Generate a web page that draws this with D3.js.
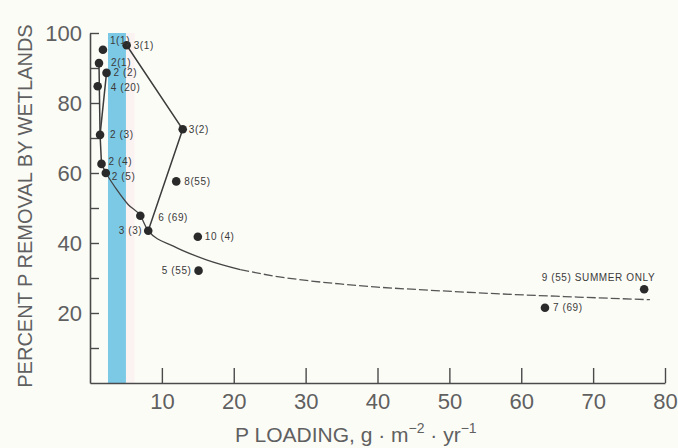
<!DOCTYPE html>
<html>
<head>
<meta charset="utf-8">
<script src="https://cdn.jsdelivr.net/npm/d3@7"></script>
<style>
  html, body { margin: 0; padding: 0; background: #fcfcf7; }
  svg { display: block; }
</style>
</head>
<body>
<svg id="chart" width="678" height="448"></svg>
<script>
// ---------------- data ----------------
const pointLabels = ["1(1)", "3(1)", "2(1)", "2 (2)", "4 (20)", "2 (3)", "2 (4)", "2 (5)",
  "3(2)", "8(55)", "6 (69)", "3 (3)", "10 (4)", "5 (55)", "9 (55) SUMMER ONLY", "7 (69)"];
const pLoading = [1.8, 5.1, 1.25, 2.3, 1.07, 1.4, 1.6, 2.2, 12.9, 12.0, 7.0, 8.1, 15.0, 15.1, 77.1, 63.3];
const pRemoval = [95.2, 96.5, 91.4, 88.6, 84.8, 70.9, 62.6, 60.0, 72.5, 57.6, 47.8, 43.5, 41.8, 32.1, 26.8, 21.5];

// connected series (by label)
const site3Path = ["3(1)", "3(2)", "3 (3)"];
const site2Path = ["2 (2)", "2 (3)", "2 (4)", "2 (5)"];
const site2Left = ["2(1)", "2 (3)"];

// fitted curve
const curveSolidX = [2.2, 3.7, 5.3, 7.0, 8.1, 11.6, 16.2, 20.9];
const curveSolidY = [60.0, 55.3, 51.0, 47.8, 43.5, 39.1, 35.2, 32.4];
const curveDashX = [20.9, 25.5, 30.1, 34.8, 40.0, 47.3, 55.6, 66.0, 77.9];
const curveDashY = [32.4, 30.6, 29.3, 28.3, 27.4, 26.5, 25.6, 24.7, 23.8];

// highlighted loading band
const bandRange = [2.5, 5.0];

const xTickValues = [10, 20, 30, 40, 50, 60, 70, 80];
const yTickValues = [20, 40, 60, 80, 100];
const yMinorTicks = [10, 20, 30, 40, 50, 60, 70, 80, 90, 100];

// ---------------- layout ----------------
// label placement: [dx, dy, anchor]
const labelLayout = {
  "1(1)": [7, -9, "start"], "3(1)": [7, 0, "start"], "2(1)": [12, -1, "start"],
  "2 (2)": [7, 0, "start"], "4 (20)": [13, 1, "start"], "2 (3)": [10, 0, "start"],
  "2 (4)": [7, -2, "start"], "2 (5)": [6, 3, "start"], "3(2)": [6, 0, "start"],
  "8(55)": [8, 0, "start"], "6 (69)": [18, 2, "start"], "3 (3)": [-6, 0, "end"],
  "10 (4)": [7, 0, "start"], "5 (55)": [-7, 0, "end"],
  "9 (55) SUMMER ONLY": [11, -12, "end"], "7 (69)": [8, 0, "start"]
};

const svg = d3.select("#chart");
const x = d3.scaleLinear().domain([0, 80]).range([90, 665]);
const y = d3.scaleLinear().domain([0, 100]).range([383, 33]);

const ink = "#4a4a4a";
const textGrey = "#606060";

// band
svg.append("rect")
  .attr("x", x(bandRange[1])).attr("y", y(100))
  .attr("width", x(bandRange[1] + 1.2) - x(bandRange[1]))
  .attr("height", y(0) - y(100))
  .attr("fill", "#fbf3f2");
svg.append("rect")
  .attr("x", x(bandRange[0])).attr("y", y(100))
  .attr("width", x(bandRange[1]) - x(bandRange[0]))
  .attr("height", y(0) - y(100))
  .attr("fill", "#7cc9e6");

// axes
const xAxis = d3.axisBottom(x).tickValues(xTickValues).tickSizeInner(-15).tickSizeOuter(0).tickPadding(10);
const gx = svg.append("g").attr("transform", `translate(0,${y(0)})`).call(xAxis);
gx.select(".domain").attr("stroke", ink).attr("stroke-width", 1.6);
gx.selectAll(".tick line").attr("stroke", ink).attr("stroke-width", 1.4);
gx.selectAll(".tick text")
  .attr("fill", textGrey)
  .style("font-family", "'Liberation Sans Narrow', 'Liberation Sans', sans-serif")
  .style("font-size", "22px");

const yAxisMinor = d3.axisLeft(y).tickValues(yMinorTicks).tickSizeInner(-9).tickSizeOuter(0).tickFormat("");
const gym = svg.append("g").attr("transform", `translate(${x(0)},0)`).call(yAxisMinor);
gym.select(".domain").attr("stroke", ink).attr("stroke-width", 1.6);
gym.selectAll(".tick line").attr("stroke", ink).attr("stroke-width", 1.4);

const yAxis = d3.axisLeft(y).tickValues(yTickValues).tickSize(0).tickPadding(8);
const gy = svg.append("g").attr("transform", `translate(${x(0)},0)`).call(yAxis);
gy.select(".domain").remove();
gy.selectAll(".tick text")
  .attr("fill", textGrey)
  .attr("dy", "0.36em")
  .style("font-family", "'Liberation Sans Narrow', 'Liberation Sans', sans-serif")
  .style("font-size", "22px");

// axis titles
svg.append("text")
  .attr("transform", `translate(32,206) rotate(-90)`)
  .attr("text-anchor", "middle")
  .attr("fill", textGrey)
  .style("font-family", "'Liberation Sans', sans-serif")
  .style("font-size", "20px")
  .text("PERCENT P REMOVAL BY WETLANDS");

const xt = svg.append("text")
  .attr("x", 235).attr("y", 442)
  .attr("fill", textGrey)
  .style("font-family", "'Liberation Sans', sans-serif")
  .style("font-size", "21px");
xt.append("tspan").text("P LOADING, g \u00b7 m");
xt.append("tspan").attr("dy", -9).style("font-size", "14px").text("\u22122");
xt.append("tspan").attr("dy", 9).text(" \u00b7 yr");
xt.append("tspan").attr("dy", -9).style("font-size", "14px").text("\u22121");

// points lookup
const pts = pointLabels.map((lab, i) => ({ label: lab, px: pLoading[i], py: pRemoval[i] }));
const byLabel = new Map(pts.map(p => [p.label, p]));

const line = d3.line().x(d => x(d.px)).y(d => y(d.py));
[site3Path, site2Path, site2Left].forEach(path => {
  svg.append("path")
    .datum(path.map(l => byLabel.get(l)))
    .attr("d", line)
    .attr("fill", "none")
    .attr("stroke", "#3c3c3c")
    .attr("stroke-width", 1.5);
});

// fitted curve
const cLine = d3.line().x(d => x(d[0])).y(d => y(d[1])).curve(d3.curveMonotoneX);
svg.append("path")
  .datum(curveSolidX.map((v, i) => [v, curveSolidY[i]]))
  .attr("d", cLine).attr("fill", "none")
  .attr("stroke", "#444").attr("stroke-width", 1.3);
svg.append("path")
  .datum(curveDashX.map((v, i) => [v, curveDashY[i]]))
  .attr("d", cLine).attr("fill", "none")
  .attr("stroke", "#555").attr("stroke-width", 1.3)
  .attr("stroke-dasharray", "9,3");

// points
svg.append("g").selectAll("circle").data(pts).join("circle")
  .attr("cx", d => x(d.px)).attr("cy", d => y(d.py))
  .attr("r", 4.3).attr("fill", "#2a2a2a");

// point labels
svg.append("g").selectAll("text").data(pts).join("text")
  .attr("x", d => x(d.px) + labelLayout[d.label][0])
  .attr("y", d => y(d.py) + labelLayout[d.label][1])
  .attr("dy", "0.35em")
  .attr("text-anchor", d => labelLayout[d.label][2])
  .attr("fill", "#3a3a3a")
  .style("font-family", "'Liberation Sans', sans-serif")
  .style("font-size", "10px")
  .style("letter-spacing", "0.6px")
  .text(d => d.label);
</script>
</body>
</html>
